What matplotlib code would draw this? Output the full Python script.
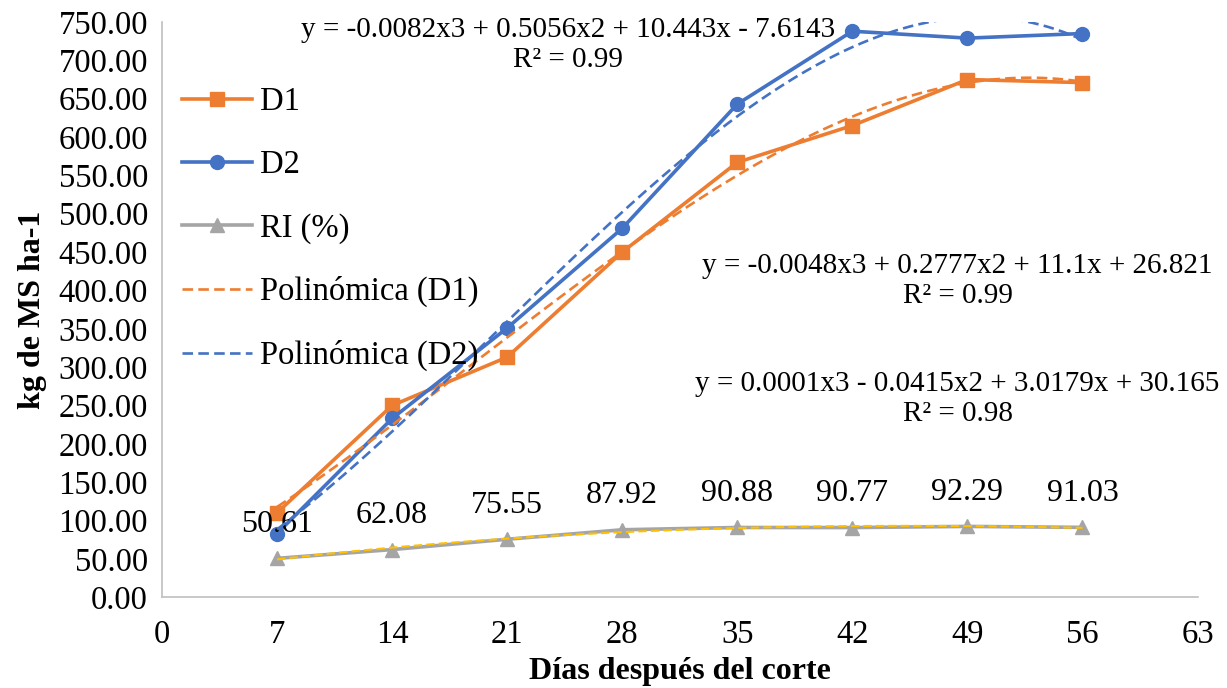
import numpy as np
import matplotlib.pyplot as plt

plt.rcParams['font.family'] = ['Liberation Serif', 'DejaVu Serif']

# Datos
dias = [7, 14, 21, 28, 35, 42, 49, 56]
d1 = [110, 250, 313, 450, 567, 615, 675, 671]
d2 = [83, 233, 351, 481, 643, 738, 729, 735]
ri = [50.61, 62.08, 75.55, 87.92, 90.88, 90.77, 92.29, 91.03]

eq_d1 = "y = -0.0048x3 + 0.2777x2 + 11.1x + 26.821\nR² = 0.99"
eq_d2 = "y = -0.0082x3 + 0.5056x2 + 10.443x - 7.6143\nR² = 0.99"
eq_ri = "y = 0.0001x3 - 0.0415x2 + 3.0179x + 30.165\nR² = 0.98"

naranja = '#ED7D31'
azul = '#4472C4'
gris = '#A5A5A5'
amarillo = '#FFC000'

fig = plt.figure(figsize=(12.27, 6.88), dpi=100)
ax = fig.add_axes([0.132, 0.132, 0.844, 0.836])

x = np.array(dias, dtype=float)
xs = np.linspace(7, 56, 300)

# lineas de tendencia (polinomio grado 3, como Excel)
t1 = np.polyval(np.polyfit(x, d1, 3), xs)
t2 = np.polyval(np.polyfit(x, d2, 3), xs)
t3 = np.polyval(np.polyfit(x, ri, 3), xs)

ax.plot(dias, d1, color=naranja, lw=2.6, marker='s', ms=10, label='D1', zorder=3)
ax.plot(dias, d2, color=azul, lw=2.6, marker='o', ms=10, label='D2', zorder=3)
ax.plot(dias, ri, color=gris, lw=2.6, marker='^', ms=10, label='RI (%)', zorder=3)
ax.plot(xs, t1, color=naranja, lw=1.9, ls=(0, (4, 2)), label='Polinómica (D1)', zorder=4)
ax.plot(xs, t2, color=azul, lw=1.9, ls=(0, (4, 2)), label='Polinómica (D2)', zorder=4)
ax.plot(xs, t3, color=amarillo, lw=1.5, ls=(0, (4, 2)), zorder=4)

for xi, yi in zip(dias, ri):
    ax.annotate(f'{yi:.2f}', (xi, yi), xytext=(0, 14), textcoords='offset points',
                ha='center', va='bottom', fontsize=23)

ax.text(24.7, 720, eq_d2, ha='center', va='center', fontsize=21, linespacing=1.2)
ax.text(48.4, 412, eq_d1, ha='center', va='center', fontsize=21, linespacing=1.2)
ax.text(48.4, 258, eq_ri, ha='center', va='center', fontsize=21, linespacing=1.2)

ax.set_xlim(0, 63)
ax.set_ylim(0, 750)
ax.set_xticks(range(0, 64, 7))
ax.set_yticks(range(0, 751, 50))
ax.set_yticklabels([f'{v:.2f}' for v in range(0, 751, 50)])
ax.tick_params(length=0, labelsize=23.5, pad=10)
ax.tick_params(axis='x', pad=16)

for s in ['top', 'right']:
    ax.spines[s].set_visible(False)
for s in ['left', 'bottom']:
    ax.spines[s].set_color('#BFBFBF')
    ax.spines[s].set_linewidth(1.2)

ax.set_xlabel('Días después del corte', fontsize=23, fontweight='bold', labelpad=5)
ax.set_ylabel('kg de MS ha-1', fontsize=23, fontweight='bold', labelpad=8)

ax.legend(loc='upper left', bbox_to_anchor=(0.0, 0.922), frameon=False, fontsize=23.5,
          labelspacing=1.0, handlelength=2.15, handletextpad=0.25, borderaxespad=0.2)

fig.savefig('out.png', dpi=100)
